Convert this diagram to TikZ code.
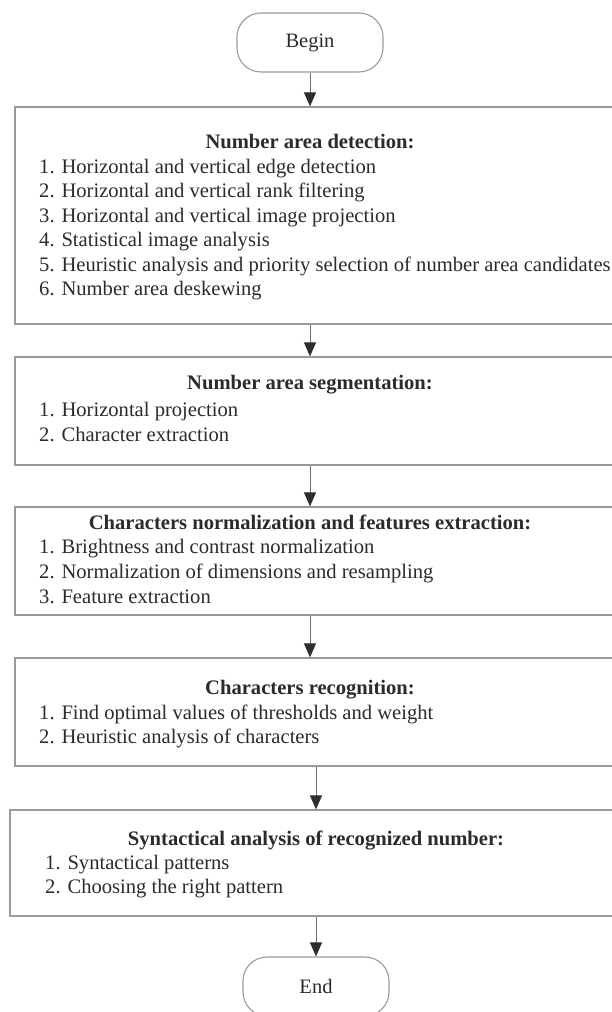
\documentclass[tikz,border=0pt]{standalone}
\usepackage{fontspec}
\setmainfont{Liberation Serif}
\usetikzlibrary{arrows.meta}
\definecolor{txt}{HTML}{2B2B2B}
\definecolor{edge}{HTML}{9A9A9A}
\definecolor{conn}{HTML}{6E6E6E}
\definecolor{tip}{HTML}{2E2E2E}
\begin{document}
\begin{tikzpicture}[x=1pt,y=-1pt,
  box/.style={draw=edge, line width=1.3pt, fill=white, rectangle, inner sep=0pt},
  term/.style={draw=edge, line width=1.1pt, fill=white, rectangle, rounded corners=24pt,
    minimum width=146pt, minimum height=59pt, inner sep=0pt,
    font=\fontsize{20.5}{24}\selectfont, text=txt},
  item/.style={anchor=base west, inner sep=0pt, font=\fontsize{20.6}{24}\selectfont, text=txt},
  ttl/.style={anchor=base, inner sep=0pt, font=\fontsize{20.6}{24}\selectfont\bfseries, text=txt},
  arr/.style={draw=conn, line width=1pt, -{Triangle[width=12pt,length=14pt,color=tip]}}
]
\useasboundingbox (0,0) rectangle (612,1012);
\fill[white] (0,0) rectangle (612,1012);
\clip (0,0) rectangle (612,1012);

% terminals
\node[term] (begin) at (310,42.5) {Begin};
\node[term] (endn) at (316,986.5) {End};

% boxes
\node[box, minimum width=625pt, minimum height=217pt] (b1) at (327.5,215.5) {};
\node[box, minimum width=625pt, minimum height=108pt] (b2) at (327.5,411) {};
\node[box, minimum width=625pt, minimum height=108pt] (b3) at (327.5,561) {};
\node[box, minimum width=625pt, minimum height=108pt] (b4) at (327.5,712) {};
\node[box, minimum width=630pt, minimum height=106pt] (b5) at (325,863) {};

% box 1
\node[ttl] (b1t) at (310,148.5) {Number area detection:};
\node[item] (b1a) at (39,173) {1. Horizontal and vertical edge detection};
\node[item] (b1b) at (39,197.5) {2. Horizontal and vertical rank filtering};
\node[item] (b1c) at (39,222) {3. Horizontal and vertical image projection};
\node[item] (b1d) at (39,246.5) {4. Statistical image analysis};
\node[item] (b1e) at (39,271) {5. Heuristic analysis and priority selection of number area candidates};
\node[item] (b1f) at (39,295.5) {6. Number area deskewing};

% box 2
\node[ttl] (b2t) at (310,389) {Number area segmentation:};
\node[item] (b2a) at (39,416) {1. Horizontal projection};
\node[item] (b2b) at (39,441) {2. Character extraction};

% box 3
\node[ttl] (b3t) at (310,529) {Characters normalization and features extraction:};
\node[item] (b3a) at (39,553) {1. Brightness and contrast normalization};
\node[item] (b3b) at (39,578) {2. Normalization of dimensions and resampling};
\node[item] (b3c) at (39,603) {3. Feature extraction};

% box 4
\node[ttl] (b4t) at (310,694.5) {Characters recognition:};
\node[item] (b4a) at (39,719) {1. Find optimal values of thresholds and weight};
\node[item] (b4b) at (39,743) {2. Heuristic analysis of characters};

% box 5
\node[ttl] (b5t) at (316,845) {Syntactical analysis of recognized number:};
\node[item] (b5a) at (45,869) {1. Syntactical patterns};
\node[item] (b5b) at (45,893) {2. Choosing the right pattern};

% connectors
\draw[arr] (begin.south) -- (begin.south |- b1.north);
\draw[arr] (begin.south |- b1.south) -- (begin.south |- b2.north);
\draw[arr] (begin.south |- b2.south) -- (begin.south |- b3.north);
\draw[arr] (begin.south |- b3.south) -- (begin.south |- b4.north);
\draw[arr] (endn.north |- b4.south) -- (endn.north |- b5.north);
\draw[arr] (endn.north |- b5.south) -- (endn.north);
\end{tikzpicture}
\end{document}
